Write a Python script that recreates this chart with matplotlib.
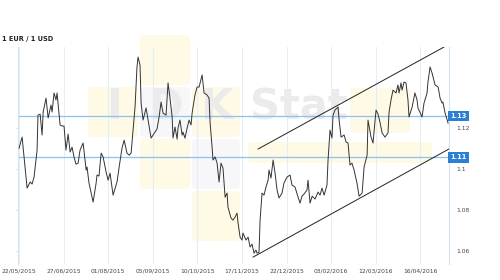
import matplotlib
matplotlib.use("Agg")
import matplotlib.pyplot as plt
from matplotlib.patches import FancyBboxPatch

# trading-day index (25 days between date ticks) and EUR/USD rate
days = [0, 1.7, 4.5, 6.2, 7.3, 8.4, 10.1, 10.6, 11.8, 12.9, 13.5, 15.1, 16.3, 17.9, 18.5,
        19.6, 20.7, 21.3, 23.0, 24.1, 25.2, 26.3, 27.5, 28.6, 29.7, 30.8, 31.9, 33.1, 34.2,
        35.9, 37.6, 38.1, 39.2, 41.5, 43.2, 43.7, 44.8, 46.0, 47.1, 48.8, 49.9, 51.0, 52.7,
        54.9, 56.1, 57.7, 58.9, 60.5, 61.7, 62.8, 63.9, 65.0, 66.1, 66.7, 67.8, 68.4, 69.5,
        71.2, 72.3, 74.0, 75.1, 76.2, 77.3, 78.5, 79.6, 80.7, 82.4, 83.5, 84.6, 85.8, 86.3,
        87.4, 88.6, 89.1, 90.2, 91.4, 91.9, 93.0, 94.2, 95.3, 96.4, 97.0, 98.6, 99.8, 100.9,
        102.6, 103.7, 105.4, 106.5, 107.1, 108.2, 108.7, 109.9, 111.0, 112.1, 113.2, 114.3,
        115.5, 116.6, 117.1, 118.8, 119.9, 121.1, 122.2, 122.7, 123.9, 125.0, 125.5, 127.2,
        128.4, 129.5, 130.6, 131.7, 132.8, 133.4, 134.5, 135.1, 136.2, 137.3, 138.4, 139.6,
        140.1, 141.2, 142.4, 143.5, 144.6, 145.7, 147.4, 148.5, 150.2, 151.9, 153.0, 154.7,
        156.4, 157.5, 158.6, 159.7, 161.4, 162.0, 163.1, 164.3, 165.9, 167.6, 168.7, 169.8,
        171.0, 172.6, 173.2, 174.3, 175.4, 176.0, 177.1, 178.8, 179.4, 180.5, 182.2, 183.3,
        184.4, 185.5, 186.6, 187.8, 189.4, 190.6, 192.3, 193.4, 195.1, 195.6, 197.3, 198.4,
        200.1, 201.2, 202.3, 203.5, 205.1, 206.8, 207.4, 208.5, 209.6, 211.3, 212.4, 213.0,
        214.1, 214.7, 215.8, 216.9, 218.0, 218.6, 220.3, 221.9, 223.1, 223.6, 225.9, 227.0,
        228.7, 229.2, 230.4, 231.5, 233.2, 234.9, 236.0, 237.1, 237.6, 238.8, 240.5]
rate = [1.1102, 1.1156, 1.0907, 1.0937, 1.0927, 1.0961, 1.1093, 1.1263, 1.1268, 1.1166,
        1.1278, 1.1346, 1.1249, 1.1312, 1.1278, 1.1371, 1.1337, 1.1371, 1.1215, 1.1210,
        1.1210, 1.1093, 1.1171, 1.1083, 1.1107, 1.1059, 1.1024, 1.1029, 1.1093, 1.1127,
        1.0995, 1.1010, 1.0932, 1.0839, 1.0932, 1.0971, 1.0966, 1.1078, 1.1059, 1.0985,
        1.0946, 1.0980, 1.0873, 1.0937, 1.1010, 1.1102, 1.1141, 1.1078, 1.1068, 1.1078,
        1.1190, 1.1302, 1.1498, 1.1546, 1.1507, 1.1322, 1.1239, 1.1298, 1.1239, 1.1151,
        1.1166, 1.1180, 1.1195, 1.1254, 1.1327, 1.1273, 1.1263, 1.1420, 1.1346, 1.1254,
        1.1151, 1.1205, 1.1146, 1.1200, 1.1239, 1.1166, 1.1180, 1.1151, 1.1200, 1.1239,
        1.1215, 1.1273, 1.1361, 1.1400, 1.1400, 1.1459, 1.1371, 1.1361, 1.1346, 1.1224,
        1.1107, 1.1044, 1.1059, 1.1029, 1.0937, 1.1029, 1.1005, 1.0863, 1.0883, 1.0815,
        1.0761, 1.0751, 1.0766, 1.0785, 1.0741, 1.0668, 1.0654, 1.0688, 1.0654, 1.0668,
        1.0620, 1.0634, 1.0590, 1.0605, 1.0590, 1.0595, 1.0751, 1.0883, 1.0873, 1.0912,
        1.0946, 1.0995, 1.0956, 1.1044, 1.0980, 1.0898, 1.0859, 1.0883, 1.0932, 1.0961,
        1.0971, 1.0922, 1.0912, 1.0863, 1.0834, 1.0868, 1.0878, 1.0898, 1.0946, 1.0834,
        1.0868, 1.0854, 1.0888, 1.0873, 1.0907, 1.0873, 1.0922, 1.1044, 1.1190, 1.1151,
        1.1263, 1.1288, 1.1302, 1.1239, 1.1156, 1.1166, 1.1132, 1.1127, 1.1020, 1.1029,
        1.0995, 1.0932, 1.0868, 1.0883, 1.1010, 1.1068, 1.1239, 1.1156, 1.1127, 1.1288,
        1.1268, 1.1229, 1.1176, 1.1156, 1.1176, 1.1278, 1.1337, 1.1385, 1.1371, 1.1410,
        1.1371, 1.1420, 1.1385, 1.1424, 1.1420, 1.1337, 1.1254, 1.1302, 1.1371, 1.1337,
        1.1298, 1.1254, 1.1322, 1.1371, 1.1424, 1.1498, 1.1468, 1.1410, 1.1400, 1.1346,
        1.1322, 1.1327, 1.1273, 1.1224]

date_ticks = [0, 25, 50, 75, 100, 125, 150, 175, 200, 225]
date_labels = ["22/05/2015", "27/06/2015", "01/08/2015", "05/09/2015", "10/10/2015",
               "17/11/2015", "22/12/2015", "03/02/2016", "12/03/2016", "16/04/2016"]
rate_ticks = [1.06, 1.08, 1.1, 1.12]

# trend channel endpoints (day, rate)
upper_x = [134.0, 238.2]
upper_y = [1.1098, 1.1595]
lower_x = [131.2, 241.0]
lower_y = [1.0571, 1.1098]

# marked levels and their labels
levels = [1.1259, 1.1058]
level_labels = ["1.13", "1.11"]

fig = plt.figure(figsize=(5, 2.8), dpi=100)
ax = fig.add_axes([0.036, 0.057, 0.862, 0.775])
ax.set_zorder(2)
ax.patch.set_alpha(0)
ax.set_xlim(-0.6, 241.0)
ax.set_ylim(1.0537, 1.1595)

# watermark (logo blocks + text) in pixel-like figure coords
def block(x0, y0, w, h, color):
    p = FancyBboxPatch((x0 / 500, 1 - (y0 + h) / 280), w / 500, h / 280,
                       boxstyle="round,pad=0,rounding_size=0.012",
                       transform=fig.transFigure, facecolor=color,
                       edgecolor="none", zorder=0)
    fig.patches.append(p)

yel = "#fefae6"
gry = "#f7f7fa"
block(140, 35, 50, 50, yel)
block(88, 87, 50, 50, yel)
block(140, 87, 50, 50, gry)
block(192, 87, 48, 50, yel)
block(140, 139, 50, 50, yel)
block(192, 139, 48, 50, gry)
block(192, 191, 48, 50, yel)
block(248, 142, 184, 21, yel)
block(350, 88, 60, 45, yel)
wm = dict(fontsize=30, fontweight="bold", color="#ebebeb", va="center", zorder=0.5)
fig.text(0.228, 0.617, "I", ha="center", **wm)
fig.text(0.33, 0.617, "D", ha="center", **wm)
fig.text(0.432, 0.617, "K", ha="center", **wm)
fig.text(0.5, 0.617, "Stat", ha="left", **wm)

for lv in levels:
    ax.axhline(lv, color="#8ec1ec", lw=0.9, zorder=2)

ax.plot(days, rate, color="#333333", lw=0.7, zorder=3)
ax.plot(upper_x, upper_y, color="#222222", lw=0.7, zorder=3)
ax.plot(lower_x, lower_y, color="#222222", lw=0.7, zorder=3)

ax.set_xticks(date_ticks)
ax.set_xticklabels(date_labels)
ax.grid(axis="x", color="#e4eef8", lw=0.8, zorder=1)
ax.set_yticks(rate_ticks)
ax.set_yticklabels(["1.06", "1.08", "1.1", "1.12"])
ax.yaxis.tick_right()
ax.tick_params(axis="x", length=0, labelsize=4.3, colors="#444444", pad=3)
ax.tick_params(axis="y", length=2, width=0.6, color="#d6e4f2", labelsize=4.3,
               labelcolor="#444444", pad=3, left=True, right=False)
for s in ["top", "bottom"]:
    ax.spines[s].set_visible(False)
for s in ["left", "right"]:
    ax.spines[s].set_color("#d6e4f2")
    ax.spines[s].set_linewidth(0.8)

for lv, lab in zip(levels, level_labels):
    ax.text(1.003, lv, lab, transform=ax.get_yaxis_transform(), fontsize=4.8,
            fontweight="bold", color="white", ha="left", va="center",
            bbox=dict(boxstyle="square,pad=0.35", facecolor="#2b7fd4", edgecolor="none"))

fig.text(0.004, 0.862, "1 EUR / 1 USD", fontsize=4.8, fontweight="bold",
         color="#222222", ha="left", va="center")

fig.savefig("out.png", dpi=100)
